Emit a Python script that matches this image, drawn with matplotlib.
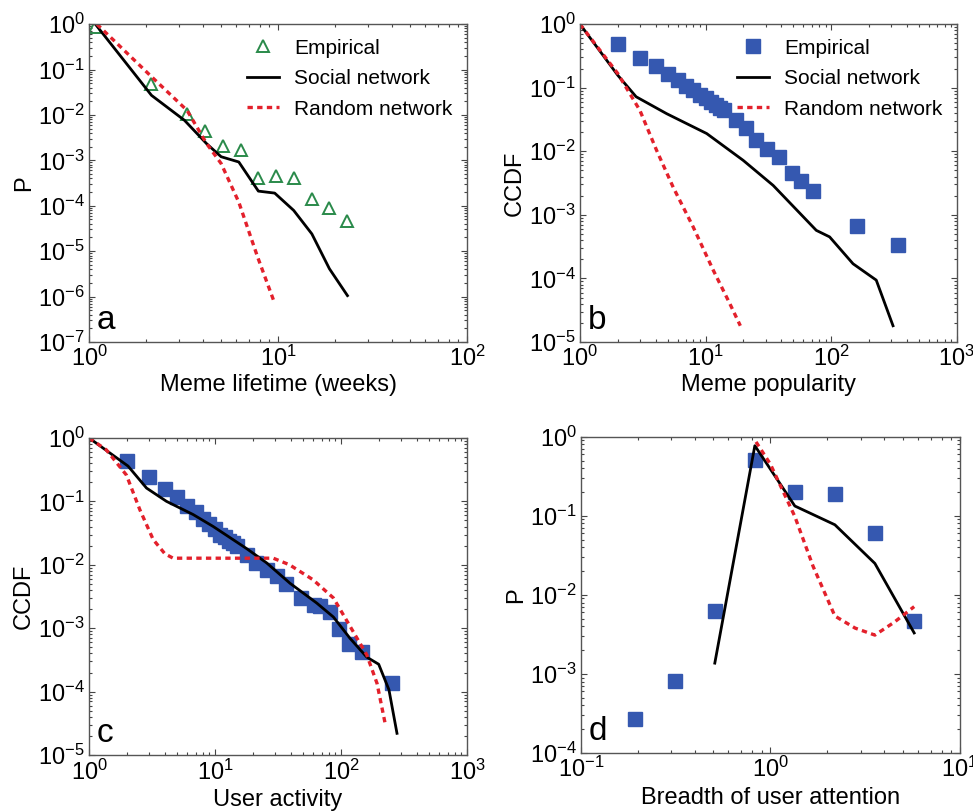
import math
import matplotlib
matplotlib.use("Agg")
import matplotlib.pyplot as plt
from matplotlib.ticker import LogLocator, NullFormatter, FuncFormatter

plt.rcParams['font.family'] = ['Liberation Sans', 'DejaVu Sans']
plt.rcParams['mathtext.fontset'] = 'custom'
plt.rcParams['mathtext.rm'] = 'Liberation Sans'
plt.rcParams['mathtext.it'] = 'Liberation Sans'
plt.rcParams['mathtext.default'] = 'regular'

# panel a: meme lifetime
a_emp_x = [1.08, 2.14, 3.31, 4.1, 5.09, 6.34, 7.87, 9.72, 12.1, 15.1, 18.7, 23.3]
a_emp_y = [0.87, 0.049, 0.0107, 0.0044, 0.0021, 0.0017, 4.1e-4, 4.6e-4, 4.0e-4, 1.4e-4, 9.1e-5, 4.6e-5]
a_soc_x = [1.09, 2.14, 3.2, 4.2, 5.0, 6.2, 7.87, 9.6, 12.1, 15.1, 18.7, 23.3]
a_soc_y = [0.95, 0.027, 0.0076, 0.0023, 0.0012, 9.2e-4, 2.1e-4, 1.9e-4, 7.9e-5, 2.4e-5, 4.1e-6, 1.05e-6]
a_rnd_x = [1.1, 2.1, 3.3, 4.2, 5.0, 6.2, 7.8, 9.5]
a_rnd_y = [1.0, 0.075, 0.0126, 0.0023, 8.5e-4, 1.2e-4, 7.4e-6, 8.0e-7]

# panel b: meme popularity
b_emp_x = [2, 3, 4, 5, 6, 7, 8, 9, 10, 11, 12, 13, 14, 17.4, 21.1, 25.1, 31, 38.5, 48.8, 57.2, 71.6, 161, 340]
b_emp_y = [0.48, 0.295, 0.22, 0.163, 0.131, 0.108, 0.091, 0.078, 0.068, 0.060, 0.053, 0.048, 0.044,
           0.031, 0.023, 0.0153, 0.011, 0.0082, 0.0045, 0.0034, 0.0024, 6.7e-4, 3.3e-4]
b_soc_x = [1, 2, 2.8, 4.9, 10.2, 19.9, 34.5, 76, 97, 149, 228, 310]
b_soc_y = [1.0, 0.157, 0.072, 0.039, 0.019, 0.0072, 0.0029, 5.7e-4, 4.5e-4, 1.7e-4, 9.4e-5, 1.8e-5]
b_rnd_x = [1, 2, 3.0, 4.07, 5.53, 7.95, 11.5, 15.6, 18.9]
b_rnd_y = [1.0, 0.167, 0.044, 0.0104, 0.0027, 6.5e-4, 1.35e-4, 4.0e-5, 1.8e-5]

# panel c: user activity
c_emp_x = [2, 3, 4, 5, 6, 7, 8, 9, 10, 11, 12, 13, 14, 15, 17.8, 21.1, 25.7, 30.9, 36.6,
           48.3, 60.6, 68, 82, 95.5, 116, 146, 254]
c_emp_y = [0.43, 0.242, 0.158, 0.116, 0.085, 0.069, 0.053, 0.044, 0.036, 0.030, 0.027, 0.024,
           0.022, 0.020, 0.0144, 0.0107, 0.0083, 0.0067, 0.0049, 0.0030, 0.0023, 0.0022, 0.0018,
           9.6e-4, 5.6e-4, 4.2e-4, 1.35e-4]
c_soc_x = [1, 2.04, 2.86, 4.12, 6.7, 9.7, 17.8, 25.7, 39.4, 64, 87, 118, 160, 199, 240, 278]
c_soc_y = [1.0, 0.36, 0.162, 0.1, 0.062, 0.040, 0.018, 0.0107, 0.0051, 0.0025, 0.0015, 6.9e-4,
           3.5e-4, 2.7e-4, 1.07e-4, 2.2e-5]
c_rnd_x = [1, 1.37, 1.98, 2.53, 3.23, 4.0, 4.65, 29, 39, 60, 87, 118, 160, 193, 225]
c_rnd_y = [1.0, 0.65, 0.26, 0.074, 0.025, 0.0149, 0.0127, 0.0127, 0.010, 0.0058, 0.0030,
           0.00107, 3.8e-4, 1.35e-4, 3.0e-5]

# panel d: breadth of user attention
d_emp_x = [0.193, 0.313, 0.509, 0.828, 1.346, 2.19, 3.56, 5.74]
d_emp_y = [2.7e-4, 8.2e-4, 6.3e-3, 0.51, 0.20, 0.19, 0.061, 4.7e-3]
d_soc_x = [0.509, 0.828, 1.346, 2.19, 3.56, 5.74]
d_soc_y = [1.37e-3, 0.77, 0.133, 0.077, 0.025, 3.3e-3]
d_rnd_x = [0.84, 1.0, 1.346, 1.68, 2.19, 2.8, 3.56, 4.5, 5.74]
d_rnd_y = [0.86, 0.45, 0.098, 0.023, 5.4e-3, 3.8e-3, 3.1e-3, 4.5e-3, 7.1e-3]

GREEN = '#2a8a4a'
BLUE = '#3558b0'
RED = '#e3202b'
FS = 17


def decade_fmt(v, pos):
    e = int(round(math.log10(v)))
    return r'$10^{%d}$' % e


def style(ax, xlim, ylim):
    ax.set_xscale('log')
    ax.set_yscale('log')
    ax.set_xlim(*xlim)
    ax.set_ylim(*ylim)
    for axis in (ax.xaxis, ax.yaxis):
        axis.set_major_locator(LogLocator(base=10, numticks=20))
        axis.set_minor_locator(LogLocator(base=10, subs=range(2, 10), numticks=20))
        axis.set_major_formatter(FuncFormatter(decade_fmt))
        axis.set_minor_formatter(NullFormatter())
    ax.tick_params(which='both', direction='in', top=True, right=True, labelsize=FS,
                   color='#444444', width=0.8)
    ax.tick_params(which='major', length=4, pad=3)
    ax.tick_params(which='minor', length=2)
    for s in ax.spines.values():
        s.set_color('#555555')
        s.set_linewidth(1.0)


def draw(ax, ex, ey, sx, sy, rx, ry, marker):
    if marker == '^':
        ax.plot(ex, ey, linestyle='none', marker='^', markersize=9, markerfacecolor='none',
                markeredgecolor=GREEN, markeredgewidth=1.4, label='Empirical')
    else:
        ax.plot(ex, ey, linestyle='none', marker='s', markersize=10, color=BLUE,
                markeredgecolor=BLUE, label='Empirical')
    ax.plot(sx, sy, color='black', linewidth=2.0, label='Social network')
    ax.plot(rx, ry, color=RED, linewidth=2.4, linestyle=(0, (1.6, 1.3)), label='Random network')


fig = plt.figure(figsize=(9.73, 8.11), dpi=100)
axa = fig.add_axes([0.0915, 0.5783, 0.3885, 0.392])
axb = fig.add_axes([0.596, 0.5783, 0.3875, 0.392])
axc = fig.add_axes([0.0915, 0.069, 0.3885, 0.391])
axd = fig.add_axes([0.597, 0.0715, 0.3895, 0.39])

draw(axa, a_emp_x, a_emp_y, a_soc_x, a_soc_y, a_rnd_x, a_rnd_y, '^')
style(axa, (1, 100), (1e-7, 1))
axa.set_xlabel('Meme lifetime (weeks)', fontsize=FS, labelpad=2)
axa.set_ylabel('P', fontsize=FS, labelpad=2)

draw(axb, b_emp_x, b_emp_y, b_soc_x, b_soc_y, b_rnd_x, b_rnd_y, 's')
style(axb, (1, 1000), (1e-5, 1))
axb.set_xlabel('Meme popularity', fontsize=FS, labelpad=2)
axb.set_ylabel('CCDF', fontsize=FS, labelpad=2)

draw(axc, c_emp_x, c_emp_y, c_soc_x, c_soc_y, c_rnd_x, c_rnd_y, 's')
style(axc, (1, 1000), (1e-5, 1))
axc.set_xlabel('User activity', fontsize=FS, labelpad=3)
axc.set_ylabel('CCDF', fontsize=FS, labelpad=2)

draw(axd, d_emp_x, d_emp_y, d_soc_x, d_soc_y, d_rnd_x, d_rnd_y, 's')
style(axd, (0.1, 10), (1e-4, 1))
axd.set_xlabel('Breadth of user attention', fontsize=FS, labelpad=3)
axd.set_ylabel('P', fontsize=FS, labelpad=2)

for ax in (axa, axb):
    ax.legend(loc='upper right', frameon=False, fontsize=15, handlelength=1.55,
              handletextpad=0.7, labelspacing=0.55, borderaxespad=0.3,
              bbox_to_anchor=(1.0, 1.0))

for ax, letter in ((axa, 'a'), (axb, 'b'), (axc, 'c'), (axd, 'd')):
    ax.text(0.02, 0.02, letter, transform=ax.transAxes, fontsize=24, ha='left', va='bottom')

fig.savefig('out.png', dpi=100)
